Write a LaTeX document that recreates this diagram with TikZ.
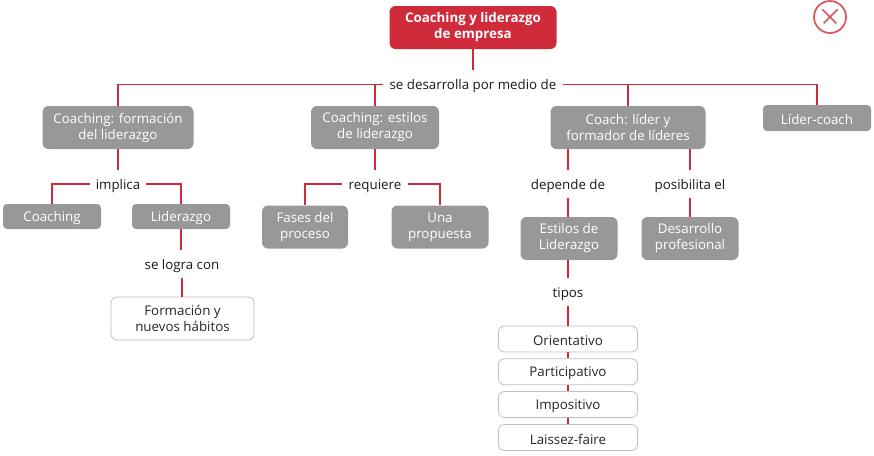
\documentclass[tikz,border=0pt]{standalone}
\usepackage{fontspec}
\setmainfont{Open Sans}
\definecolor{mapred}{HTML}{D02B3B}
\definecolor{mapgray}{HTML}{96989A}
\definecolor{mapedge}{HTML}{BDBEBE}
\tikzset{
  wide/.style={minimum width=#1*0.75pt},
  tall/.style={minimum height=#1*0.75pt},
  tworow/.style={execute at begin node={\rule{0pt}{12.5pt}}},
  titlebox/.style={tworow,fill=mapred,text=white,rounded corners=4.5pt,
    align=center,inner sep=0pt,wide=167,tall=43},
  graybox/.style={tworow,fill=mapgray,text=white,rounded corners=4.5pt,align=center,
    inner sep=0pt,tall=43},
  lowbox/.style={fill=mapgray,text=white,rounded corners=3pt,align=center,
    inner sep=0pt,tall=25},
  whitebox/.style={draw=mapedge,fill=white,text=black!85,rounded corners=4.5pt,
    align=center,inner sep=0pt,line width=0.6pt},
  linkword/.style={text=black!90,inner xsep=4.5pt,inner ysep=0pt,tall=28},
  link/.style={draw=mapred,line width=1.1pt}
}
\begin{document}
\begin{tikzpicture}[x=0.75pt,y=-0.75pt,every node/.style={font=\fontsize{10}{12}\selectfont,
    execute at begin node={\rule{0pt}{10pt}}}]
  \useasboundingbox
    (0,0)
    rectangle
    (874,455);
  % top
  \node[titlebox,font=\fontsize{10}{12}\selectfont\bfseries] (coachlead) at (473,27.5) {Coaching y liderazgo\\de empresa};
  \node[linkword] (develop) at (473,84.5) {se desarrolla por medio de};
  % first row
  \node[graybox,wide=151] (training) at (118,127.5) {Coaching: formación\\del liderazgo};
  \node[graybox,wide=128] (styles) at (375,127.5) {Coaching: estilos\\de liderazgo};
  \node[graybox,wide=155] (coach) at (628,127.5) {Coach: líder y\\formador de líderes};
  \node[lowbox,wide=108,tall=26] (leadcoach) at (817,118) {Líder-coach};
  % left branch
  \node[linkword] (implies) at (118,184) {implica};
  \node[lowbox,wide=98] (coaching) at (52,216.5) {Coaching};
  \node[lowbox,wide=98] (leading) at (181,216.5) {Liderazgo};
  \node[linkword] (achieved) at (182,264) {se logra con};
  \node[whitebox,tworow,wide=143,tall=43] (habits) at (182.5,318.5) {Formación y\\nuevos hábitos};
  % middle branch
  \node[linkword] (needs) at (375,184) {requiere};
  \node[graybox,wide=86] (phases) at (305,227) {Fases del\\proceso};
  \node[graybox,wide=97] (proposal) at (440,227) {Una\\propuesta};
  % right branch
  \node[linkword] (depends) at (568,184) {depende de};
  \node[linkword] (enables) at (690,184) {posibilita el};
  \node[graybox,wide=97] (leadstyles) at (569,238.5) {Estilos de\\Liderazgo};
  \node[graybox,wide=97] (growth) at (690,238.5) {Desarrollo\\profesional};
  \node[linkword] (kinds) at (568,292) {tipos};
  \node[whitebox,wide=139,tall=26] (guide) at (568,339) {Orientativo};
  \node[whitebox,wide=139,tall=26] (share) at (568,371.7) {Participativo};
  \node[whitebox,wide=139,tall=26] (impose) at (568,404.5) {Impositivo};
  \node[whitebox,wide=139,tall=26] (laissez) at (568,437.5) {Laissez-faire};
  % connectors
  \draw[link]
    (coachlead.south)
    --
    (develop.north -| coachlead.south);
  \draw[link]
    (develop.west)
    -|
    (training.north);
  \draw[link]
    (develop.west)
    -|
    (styles.north);
  \draw[link]
    (develop.east)
    -|
    (coach.north);
  \draw[link]
    (develop.east)
    -|
    (leadcoach.north);
  \draw[link]
    (training.south)
    --
    (implies.north);
  \draw[link]
    (implies.west)
    -|
    (coaching.north);
  \draw[link]
    (implies.east)
    -|
    (leading.north);
  \draw[link]
    (leading.south)
    --
    (achieved.north -| leading.south);
  \draw[link]
    (achieved.south)
    --
    (habits.north -| achieved.south);
  \draw[link]
    (styles.south)
    --
    (needs.north);
  \draw[link]
    (needs.west)
    -|
    (phases.north);
  \draw[link]
    (needs.east)
    -|
    (proposal.north);
  \draw[link]
    (depends.north |- coach.south)
    --
    (depends.north);
  \draw[link]
    (enables.north |- coach.south)
    --
    (enables.north);
  \draw[link]
    (depends.south)
    --
    (depends.south |- leadstyles.north);
  \draw[link]
    (enables.south)
    --
    (growth.north);
  \draw[link]
    (kinds.north |- leadstyles.south)
    --
    (kinds.north);
  \draw[link]
    (kinds.south)
    --
    (guide.north);
  \draw[link]
    (guide.south)
    --
    (share.north);
  \draw[link]
    (share.south)
    --
    (impose.north);
  \draw[link]
    (impose.south)
    --
    (laissez.north);
  % close mark
  \node[circle,draw=mapred!80!white,line width=1.3pt,minimum size=24pt,inner sep=0pt] (closemark) at (830,17) {};
  \draw[mapred!80!white,line width=1.2pt]
    (closemark.45)
    ++(-3.2pt,-3.2pt)
    --
    ++(-10.5pt,-10.5pt);
  \draw[mapred!80!white,line width=1.2pt]
    (closemark.135)
    ++(3.2pt,-3.2pt)
    --
    ++(10.5pt,-10.5pt);
\end{tikzpicture}
\end{document}
